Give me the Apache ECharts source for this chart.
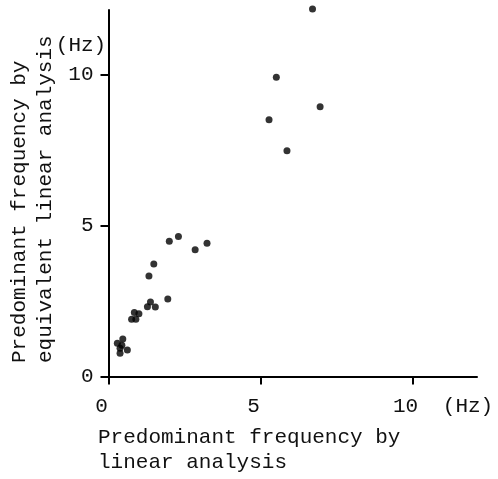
<!DOCTYPE html>
<html>
<head>
<meta charset="utf-8">
<script src="https://cdn.jsdelivr.net/npm/echarts@6/dist/echarts.min.js"></script>
<style>html,body{margin:0;padding:0;background:#fff;}#c{width:498px;height:479px;}</style>
</head>
<body>
<div id="c"></div>
<script>
// Predominant frequency by linear analysis (Hz)
const linearFreq = [6.71, 5.52, 6.96, 5.28, 5.87, 2.00, 2.30, 2.85, 3.24, 1.49, 1.33, 1.95, 1.38, 1.28, 1.54, 0.85, 1.00, 0.76, 0.90, 0.29, 0.47, 0.44, 0.38, 0.38, 0.62];
// Predominant frequency by equivalent linear analysis (Hz)
const equivFreq  = [12.18, 9.92, 8.94, 8.51, 7.48, 4.48, 4.64, 4.20, 4.42, 3.73, 3.33, 2.57, 2.47, 2.31, 2.30, 2.12, 2.08, 1.90, 1.90, 1.10, 1.24, 1.04, 0.94, 0.77, 0.88];
const xTicks = [0, 5, 10];
const yTicks = [0, 5, 10];
const xTitle = ['Predominant frequency by', 'linear analysis'];
const yTitle = ['Predominant frequency by', 'equivalent linear analysis'];
const unitLabel = '(Hz)';

const FONT = 'Liberation Mono, Courier New, monospace';
const chart = echarts.init(document.getElementById('c'), null, {renderer: 'canvas'});
const pts = linearFreq.map((x, i) => [x, equivFreq[i]]);
chart.setOption({
  animation: false,
  backgroundColor: '#fff',
  grid: {left: 108.5, right: 21, top: 10, bottom: 102.5},
  xAxis: {
    type: 'value', min: 0, max: 12.12, interval: 5,
    splitLine: {show: false},
    axisLine: {lineStyle: {color: '#000', width: 2}},
    axisTick: {show: true, length: 8, lineStyle: {color: '#000', width: 2}, customValues: xTicks},
    axisLabel: {customValues: xTicks, color: '#111', fontFamily: FONT, fontSize: 21, margin: 19, padding: [0, 14, 0, 0]}
  },
  yAxis: {
    type: 'value', min: 0, max: 12.15, interval: 5,
    splitLine: {show: false},
    axisLine: {lineStyle: {color: '#000', width: 2}},
    axisTick: {show: true, length: 8, lineStyle: {color: '#000', width: 2}, customValues: yTicks},
    axisLabel: {customValues: yTicks, color: '#111', fontFamily: FONT, fontSize: 21, margin: 15}
  },
  series: [{
    type: 'scatter', data: pts, symbol: 'circle', symbolSize: 7, clip: false,
    itemStyle: {color: '#000'}
  }],
  graphic: [
    {type: 'text', x: 98, y: 437, style: {text: xTitle[0], font: '21px ' + FONT, fill: '#111', textAlign: 'left', textVerticalAlign: 'middle'}},
    {type: 'text', x: 98, y: 462, style: {text: xTitle[1], font: '21px ' + FONT, fill: '#111', textAlign: 'left', textVerticalAlign: 'middle'}},
    {type: 'text', x: 19, y: 363, rotation: Math.PI / 2, style: {text: yTitle[0], font: '21px ' + FONT, fill: '#111', textAlign: 'left', textVerticalAlign: 'middle'}},
    {type: 'text', x: 45, y: 363, rotation: Math.PI / 2, style: {text: yTitle[1], font: '21px ' + FONT, fill: '#111', textAlign: 'left', textVerticalAlign: 'middle'}},
    {type: 'text', x: 81, y: 45, style: {text: unitLabel, font: '21px ' + FONT, fill: '#111', textAlign: 'center', textVerticalAlign: 'middle'}},
    {type: 'text', x: 468, y: 406, style: {text: unitLabel, font: '21px ' + FONT, fill: '#111', textAlign: 'center', textVerticalAlign: 'middle'}}
  ]
});
</script>
</body>
</html>
